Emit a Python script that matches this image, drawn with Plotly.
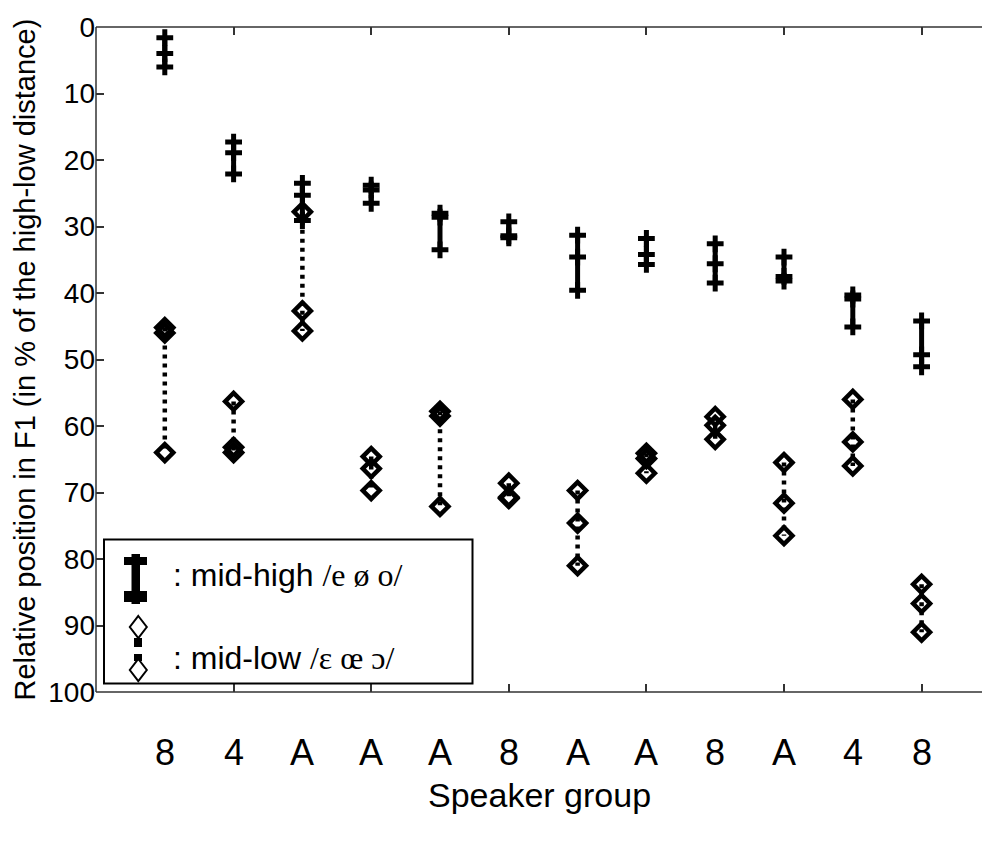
import plotly.graph_objects as go

# Speaker groups, left to right
groups = ["8", "4", "A", "A", "A", "8", "A", "A", "8", "A", "4", "8"]
positions = list(range(1, len(groups) + 1))

# Relative F1 position (% of high-low distance) for mid-high vowels /e ø o/
mid_high = [
    [1.6, 4.0, 6.0],
    [17.3, 18.9, 22.1],
    [23.5, 25.3, 29.1],
    [23.8, 24.5, 26.5],
    [28.0, 28.6, 33.5],
    [29.3, 31.4, 31.7],
    [31.3, 34.6, 39.6],
    [31.8, 34.2, 35.7],
    [32.6, 35.6, 38.5],
    [34.6, 37.5, 38.2],
    [40.3, 40.9, 45.1],
    [44.2, 49.3, 51.1],
]

# Relative F1 position for mid-low vowels /ɛ œ ɔ/
mid_low = [
    [45.2, 46.0, 64.0],
    [56.3, 63.2, 64.0],
    [27.8, 42.7, 45.7],
    [64.6, 66.4, 69.7],
    [57.8, 58.5, 72.1],
    [68.6, 70.7, 70.9],
    [69.7, 74.6, 81.0],
    [64.1, 64.9, 67.1],
    [58.6, 59.9, 62.0],
    [65.5, 71.6, 76.5],
    [56.0, 62.4, 66.0],
    [83.8, 86.7, 91.0],
]

y_ticks = list(range(0, 101, 10))
x_ticks = [2, 4, 6, 8, 10, 12]

W, H = 982, 841
L, R, T, B = 96, 0, 27, 149
X_MAX = (W - L - R) / 68.8


def stacked(values):
    xs, ys = [], []
    for pos, vals in zip(positions, values):
        xs += [pos] * len(vals) + [None]
        ys += sorted(vals) + [None]
    return xs, ys


fig = go.Figure()

hx, hy = stacked(mid_high)
fig.add_trace(go.Scatter(
    x=hx, y=hy, mode="lines+markers", connectgaps=False,
    line=dict(color="black", width=5),
    marker=dict(symbol="cross-thin", size=12, line=dict(color="black", width=5)),
    showlegend=False, hoverinfo="skip",
))

lx, ly = stacked(mid_low)
fig.add_trace(go.Scatter(
    x=lx, y=ly, mode="lines+markers", connectgaps=False,
    line=dict(color="black", width=4.5, dash="4px,5px"),
    marker=dict(symbol="diamond-open", size=13, color="black",
                line=dict(color="black", width=4.5)),
    showlegend=False, hoverinfo="skip",
))

axis_col = "#333333"
font_main = "Liberation Sans, Arial, sans-serif"

# pixel -> paper helpers for the hand-drawn key
PW = W - L - R
PH = H - T - B


def pxx(x):
    return (x - L) / PW


def pxy(y):
    return (H - B - y) / PH


shapes = []
# frame lines: bottom, top and left (the box stays open on the right)
for (x0, x1, y0, y1) in [(0, 1.01, 0, 0), (0, 1.01, 1, 1), (0, 0, 0, 1)]:
    shapes.append(dict(type="line", xref="paper", yref="paper",
                       x0=x0, x1=x1, y0=y0, y1=y1,
                       line=dict(color=axis_col, width=1.5), layer="above"))
# key frame
shapes.append(dict(type="rect", xref="paper", yref="paper",
                   x0=pxx(104), x1=pxx(472.5), y0=pxy(539.5), y1=pxy(683.5),
                   line=dict(color="black", width=2), fillcolor="white", layer="above"))
# mid-high key symbol: thick bar with caps
for (x0, x1, y0, y1) in [(131.5, 140, 554, 604), (124, 147, 557, 565), (124, 147, 591, 602)]:
    shapes.append(dict(type="rect", xref="paper", yref="paper",
                       x0=pxx(x0), x1=pxx(x1), y0=pxy(y0), y1=pxy(y1),
                       line=dict(width=0), fillcolor="black", layer="above"))
# mid-low key symbol: two open diamonds joined by dashes
for (x0, x1, y0, y1) in [(134, 142, 638, 647), (134, 142, 654, 661)]:
    shapes.append(dict(type="rect", xref="paper", yref="paper",
                       x0=pxx(x0), x1=pxx(x1), y0=pxy(y0), y1=pxy(y1),
                       line=dict(width=0), fillcolor="black", layer="above"))
for cy in (627, 670):
    cx, hw, hh = 138.3, 8.5, 11
    path = "M {} {} L {} {} L {} {} L {} {} Z".format(
        pxx(cx), pxy(cy - hh), pxx(cx + hw), pxy(cy),
        pxx(cx), pxy(cy + hh), pxx(cx - hw), pxy(cy))
    shapes.append(dict(type="path", xref="paper", yref="paper", path=path,
                       line=dict(color="black", width=2), fillcolor="white", layer="above"))

serif = "font-family:'Liberation Serif', 'Times New Roman', serif"
annotations = [
    dict(text=": mid-high <span style=\"{}\">/e ø o/</span>".format(serif),
         xref="paper", yref="paper", x=pxx(171), y=pxy(575), xanchor="left", yanchor="middle",
         showarrow=False, font=dict(family=font_main, size=32, color="black")),
    dict(text=": mid-low <span style=\"{}\">/ɛ œ ɔ/</span>".format(serif),
         xref="paper", yref="paper", x=pxx(171), y=pxy(658), xanchor="left", yanchor="middle",
         showarrow=False, font=dict(family=font_main, size=32, color="black")),
    dict(text="Relative position in F1 (in % of the high-low distance)",
         xref="paper", yref="paper", x=pxx(24), y=0.5, textangle=-90,
         xanchor="center", yanchor="middle", showarrow=False,
         font=dict(family=font_main, size=29, color="black")),
    dict(text="Speaker group", xref="paper", yref="paper", x=0.5, y=pxy(795),
         xanchor="center", yanchor="middle", showarrow=False,
         font=dict(family=font_main, size=34, color="black")),
]

# speaker-group labels under each column
for pos, g in zip(positions, groups):
    annotations.append(dict(text=g, xref="x", yref="paper", x=pos, y=pxy(752),
                            xanchor="center", yanchor="middle", showarrow=False,
                            font=dict(family=font_main, size=36, color="black")))

fig.update_layout(
    width=W, height=H, autosize=False,
    margin=dict(l=L, r=R, t=T, b=B, pad=0),
    paper_bgcolor="white", plot_bgcolor="white",
    font=dict(family=font_main, size=28, color="black"),
    xaxis=dict(range=[0, X_MAX], tickvals=x_ticks, ticktext=[""] * len(x_ticks),
               ticks="inside", ticklen=8, tickwidth=1.5, tickcolor=axis_col,
               showline=False, mirror="ticks",
               showgrid=False, zeroline=False, fixedrange=True),
    yaxis=dict(range=[100, 0], tickvals=y_ticks, ticks="inside", ticklen=8,
               tickwidth=1.5, tickcolor=axis_col, showline=False,
               mirror=False, showgrid=False, zeroline=False,
               tickfont=dict(family=font_main, size=28, color="black")),
    shapes=shapes,
    annotations=annotations,
)

fig.write_html("out.html")
